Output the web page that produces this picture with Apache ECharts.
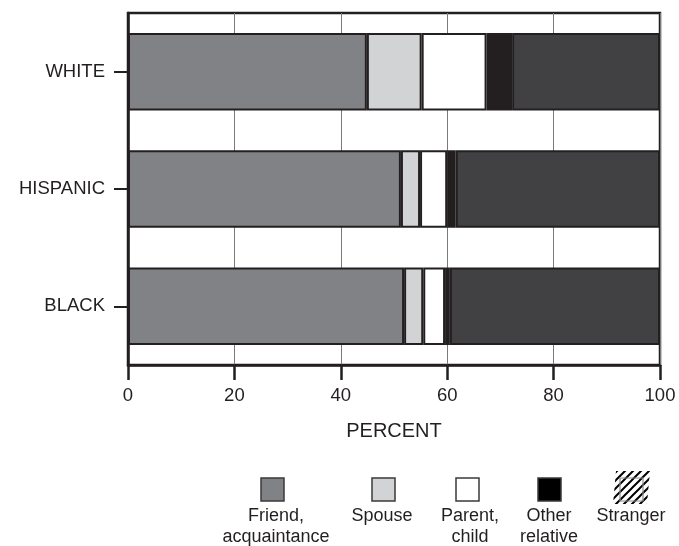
<!DOCTYPE html>
<html>
<head>
<meta charset="utf-8">
<script src="https://cdn.jsdelivr.net/npm/echarts@6/dist/echarts.min.js"></script>
<style>
html,body{margin:0;padding:0;background:#fff;}
#chart{width:679px;height:546px;}
</style>
</head>
<body>
<div id="chart"></div>
<script>
var categories = ['WHITE', 'HISPANIC', 'BLACK'];
var seriesNames = ['Friend, acquaintance', 'Spouse', 'Parent, child', 'Other relative', 'Stranger'];
var legendLabels = ['Friend,\nacquaintance', 'Spouse', 'Parent,\nchild', 'Other\nrelative', 'Stranger'];
var friendAcq = [44.9, 51.3, 51.9];
var spouse = [10.3, 3.6, 3.6];
var parentChild = [12.2, 5.1, 4.1];
var otherRel = [4.8, 1.6, 0.9];
var stranger = [27.8, 38.4, 39.5];
var xTicks = [0, 20, 40, 60, 80, 100];

var seriesValues = [friendAcq, spouse, parentChild, otherRel, stranger];
var barColors = ['#808285', '#d1d3d4', '#ffffff', '#231f20', '#414042'];
var legendColors = ['#808285', '#d1d3d4', '#ffffff', '#000000', null];
var legendIconX = [261, 372, 456, 538, 620];
var legendTextX = [276, 382, 470, 549, 631];

var FONT = '"Liberation Sans", Arial, Helvetica, sans-serif';
var INK = '#231f20';

var chart = echarts.init(document.getElementById('chart'));

// hatch pattern
var S = 8;
var pc = document.createElement('canvas');
pc.width = S; pc.height = S;
var ctx = pc.getContext('2d');
ctx.strokeStyle = '#000';
ctx.lineWidth = 2;
ctx.beginPath();
ctx.moveTo(-1, S + 1); ctx.lineTo(S + 1, -1);
ctx.moveTo(-1, 1); ctx.lineTo(1, -1);
ctx.moveTo(S - 1, S + 1); ctx.lineTo(S + 1, S - 1);
ctx.stroke();

var graphics = [];
for (var i = 0; i < seriesNames.length; i++) {
  if (legendColors[i] !== null) {
    graphics.push({
      type: 'rect',
      shape: {x: legendIconX[i], y: 478, width: 23, height: 23},
      style: {fill: legendColors[i], stroke: '#3a3a3a', lineWidth: 1.5}
    });
  } else {
    graphics.push({
      type: 'polygon',
      shape: {points: [[613, 504], [616, 471], [650, 471], [647, 504]]},
      style: {fill: {image: pc, repeat: 'repeat'}}
    });
    graphics.push({
      type: 'rect',
      shape: {x: legendIconX[i], y: 478, width: 23, height: 23},
      style: {fill: 'none', stroke: '#8a8a8a', lineWidth: 1.2}
    });
  }
  graphics.push({
    type: 'text',
    style: {
      text: legendLabels[i], x: legendTextX[i], y: 506,
      textAlign: 'center', textVerticalAlign: 'top',
      font: '18px ' + FONT, lineHeight: 21, fill: INK
    }
  });
}

var series = seriesNames.map(function (name, i) {
  return {
    name: name,
    type: 'bar',
    stack: 'total',
    barWidth: '66%',
    data: seriesValues[i],
    itemStyle: {color: barColors[i], borderColor: INK, borderWidth: 2},
    emphasis: {disabled: true},
    animation: false
  };
});

chart.setOption({
  animation: false,
  grid: {left: 128, right: 19, top: 13, bottom: 181, show: true, borderColor: INK, borderWidth: 2.5, backgroundColor: 'transparent'},
  xAxis: {
    type: 'value', min: 0, max: 100, interval: 20,
    axisLine: {show: true, lineStyle: {color: INK, width: 2.5}},
    axisTick: {show: true, length: 15, lineStyle: {color: INK, width: 2.5}},
    axisLabel: {fontSize: 18.5, fontFamily: FONT, color: INK, margin: 21,
      formatter: function (v) { return xTicks.indexOf(v) >= 0 ? String(v) : ''; }},
    splitLine: {show: true, lineStyle: {color: '#7a7a7a', width: 1}},
    name: 'PERCENT', nameLocation: 'middle', nameGap: 56,
    nameTextStyle: {fontSize: 20, fontFamily: FONT, color: INK}
  },
  yAxis: {
    type: 'category', data: categories, inverse: true,
    axisLine: {show: true, lineStyle: {color: INK, width: 2.5}},
    axisTick: {show: true, alignWithLabel: true, length: 14, lineStyle: {color: INK, width: 2}},
    axisLabel: {fontSize: 18.5, fontFamily: FONT, color: INK, margin: 23},
    splitLine: {show: false}
  },
  graphic: graphics,
  series: series
});
</script>
</body>
</html>
